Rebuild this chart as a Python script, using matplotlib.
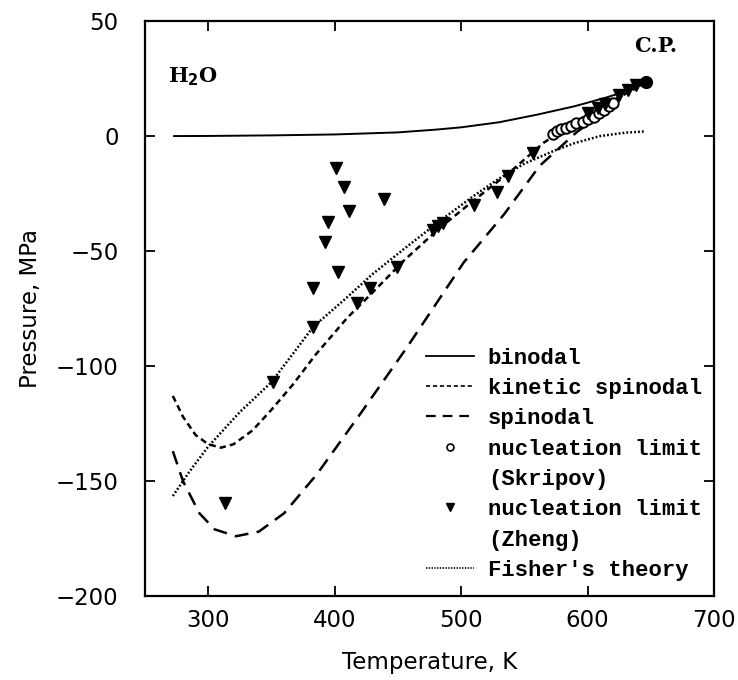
import matplotlib
matplotlib.use("Agg")
import matplotlib.pyplot as plt
from matplotlib.lines import Line2D

plt.rcParams['lines.scale_dashes'] = False

# ---- data ----
binodal_T = [273, 300, 350, 400, 450, 480, 500, 530, 560, 590, 615, 635, 646]
binodal_P = [0.0, 0.05, 0.3, 0.7, 1.6, 2.8, 3.8, 6.0, 9.3, 13.0, 16.8, 20.3, 23.0]

kinetic_T = [272, 280, 290, 300, 310, 320, 335, 350, 367, 385, 410, 430, 455, 483, 510, 540, 565, 590, 615, 646]
kinetic_P = [-113, -122, -130, -134, -135.5, -134, -128, -119, -108, -95, -79, -68, -54, -40, -28, -15, -3, 6, 14, 23]

spinodal_T = [272, 280, 293, 305, 322, 340, 360, 386, 420, 457, 502, 534, 562, 592, 605]
spinodal_P = [-137, -150, -164, -171, -174, -172, -164, -147, -121, -92, -55, -34, -13, 2, 7]

fisher_T = [272, 285, 300, 325, 350, 383, 410, 430, 455, 483, 510, 530, 550, 573, 590, 610, 630, 645]
fisher_P = [-156.5, -146, -135, -120, -107, -83, -70, -60, -49, -37, -26, -18.5, -12, -6.5, -3, 0, 1.5, 2]

skripov_T = [573, 576, 579, 583, 587, 591, 596, 600, 605, 609, 613, 617, 620]
skripov_P = [1.0, 2.0, 3.0, 3.5, 4.5, 5.5, 6.0, 7.5, 8.5, 10.0, 11.5, 13.0, 14.5]

zheng_T = [401, 407, 439, 411, 395, 392, 403, 383, 383, 418, 428, 449, 478, 482, 486,
           510, 528, 537, 557, 600, 608, 614, 625, 632, 638, 351, 313]
zheng_P = [-14, -22, -27.5, -32.5, -37.5, -46, -59, -66, -83, -72.5, -66, -57, -41, -39, -38,
           -30, -24.5, -17.5, -7.5, 10, 12, 14, 18, 20, 22, -107, -159.5]

cp_T = [646]
cp_P = [23.5]

x_ticks = [300, 400, 500, 600, 700]
y_ticks = [-200, -150, -100, -50, 0, 50]

# ---- figure ----
fig = plt.figure(figsize=(7.38, 6.8), dpi=100)
ax = fig.add_axes([0.1965, 0.1235, 0.771, 0.8455])

ax.plot(binodal_T, binodal_P, color='black', lw=1.4, ls='-')
ax.plot(kinetic_T, kinetic_P, color='black', lw=1.8, dashes=(4.5, 3.0))
ax.plot(spinodal_T, spinodal_P, color='black', lw=1.8, dashes=(10, 6))
ax.plot(fisher_T, fisher_P, color='black', lw=1.8, dashes=(1.3, 1.5))
ax.plot(skripov_T, skripov_P, ls='none', marker='o', ms=7.5, mfc='white',
        mec='black', mew=1.4)
ax.plot(zheng_T, zheng_P, ls='none', marker='v', ms=9, color='black')
ax.plot(cp_T, cp_P, ls='none', marker='o', ms=8.5, color='black')

ax.text(654, 39, 'C.P.', fontsize=15, fontweight='bold', family='DejaVu Serif',
        ha='center', va='center')
ax.text(288, 26, r'H$_\mathbf{2}$O', fontsize=15, fontweight='bold',
        family='DejaVu Serif', ha='center', va='center')

ax.set_xlim(250, 700)
ax.set_ylim(-200, 50)
ax.set_xticks(x_ticks)
ax.set_yticks(y_ticks)
ax.tick_params(direction='in', length=7, width=1.3, top=True, right=True,
               labelsize=16.5)
ax.tick_params(axis='x', pad=9)
ax.tick_params(axis='y', pad=19)
for sp in ax.spines.values():
    sp.set_linewidth(1.6)

ax.set_xlabel('Temperature, K', fontsize=16.5, labelpad=14)
ax.set_ylabel('Pressure, MPa', fontsize=16.5, labelpad=10)

blank = Line2D([], [], ls='none')
handles = [
    Line2D([], [], color='black', lw=1.3),
    Line2D([], [], color='black', lw=1.2, dashes=(3, 2)),
    Line2D([], [], color='black', lw=1.6, dashes=(7, 5)),
    Line2D([], [], ls='none', marker='o', ms=5, mfc='white', mec='black', mew=1.2),
    blank,
    Line2D([], [], ls='none', marker='v', ms=6, color='black'),
    blank,
    Line2D([], [], color='black', lw=1.2, dashes=(1, 1)),
]
labels = ['binodal', 'kinetic spinodal', 'spinodal', 'nucleation limit', '(Skripov)',
          'nucleation limit', '(Zheng)', "Fisher's theory"]
leg = ax.legend(handles, labels, loc='lower right', bbox_to_anchor=(1.0, 0.005),
                frameon=False, handlelength=2.2, handletextpad=0.6,
                labelspacing=0.42, borderaxespad=0.15,
                prop={'family': 'Liberation Mono', 'weight': 'bold', 'size': 16})

fig.savefig('out.png', dpi=100)
